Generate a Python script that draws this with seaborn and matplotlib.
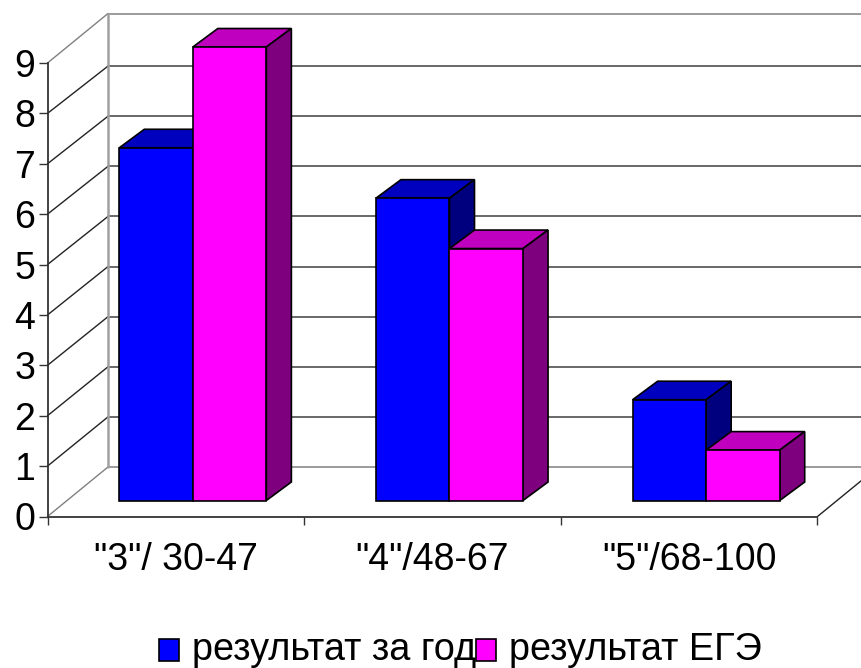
import pandas as pd
import seaborn as sns
import matplotlib.pyplot as plt
from matplotlib.patches import Polygon
from matplotlib.transforms import Affine2D

categories = ['"3"/ 30-47', '"4"/48-67', '"5"/68-100']
year_result = [7, 6, 2]
ege_result = [9, 5, 1]
series_names = ['результат за год', 'результат ЕГЭ']
y_ticks = [0, 1, 2, 3, 4, 5, 6, 7, 8, 9]

df = pd.DataFrame({
    'cat': categories * 2,
    'value': year_result + ege_result,
    'series': [series_names[0]] * 3 + [series_names[1]] * 3,
})

sns.set_style('white')
plt.rcParams['font.family'] = ['Liberation Sans', 'DejaVu Sans']

W, H = 861, 668
fig = plt.figure(figsize=(W / 100, H / 100), dpi=100)
# front plane of the fake 3d box, in pixels
left, right, bottom, top = 47.5, 817.5, 516.5, 63
ax = fig.add_axes([left / W, 1 - bottom / H, (right - left) / W, (bottom - top) / H])

colors = {series_names[0]: '#0000ff', series_names[1]: '#ff00ff'}
sns.barplot(data=df, x='cat', y='value', hue='series', palette=colors, saturation=1,
            width=0.573, gap=0, edgecolor='black', linewidth=1.2, ax=ax)

ax.set_xlim(-0.5, 2.5)
ax.set_ylim(0, 9)
ax.set_xlabel('')
ax.set_ylabel('')

x_px = (right - left) / 3
y_px = (bottom - top) / 9

# back wall, side wall and floor
wall = Affine2D().translate(60.5, 49.5)
back = ax.transData + wall
for v in y_ticks:
    col = '#808080' if v in (0, 9) else '#404040'
    # inner back lines run a touch tighter than the front scale
    bv = v if v == 9 else v * 0.9945
    ax.plot([-0.5, 2.75], [bv, bv], color=col, lw=1.1, transform=back, clip_on=False, zorder=1)
    ax.plot([-0.5, -0.5 + 60.5 / x_px], [v, bv + 49.5 / y_px], color='#808080' if v in (0, 9) else '#222222',
            lw=1, clip_on=False, zorder=1)
ax.plot([-0.5, -0.5], [0, 9], color='#a0a0a0', lw=1.8, transform=back, clip_on=False, zorder=1)
ax.plot([2.5, 2.5 + 60.5 / x_px], [0, 49.5 / y_px], color='#222222', lw=1, clip_on=False, zorder=1)

# bars sit a bit behind the front plane, faces are built from the bar rectangles
bar_shift = Affine2D().translate(17, 16)
bar_trans = ax.transData + bar_shift
dx = 25 / x_px
dy = 18.5 / y_px
tops = ['#0000bf', '#bf00bf']
sides = ['#00007f', '#7f007f']
for i, cont in enumerate(ax.containers):
    z = 3 + i
    for b in cont:
        x0, w, h = b.get_x(), b.get_width(), b.get_height()
        b.set_transform(bar_trans)
        b.set_zorder(z + 0.5)
        b.set_clip_on(False)
        ax.add_patch(Polygon([(x0, h), (x0 + dx, h + dy), (x0 + w + dx, h + dy), (x0 + w, h)],
                             facecolor=tops[i], edgecolor='black', lw=1.2,
                             transform=bar_trans, zorder=z, clip_on=False))
        ax.add_patch(Polygon([(x0 + w, 0), (x0 + w + dx, dy), (x0 + w + dx, h + dy), (x0 + w, h)],
                             facecolor=sides[i], edgecolor='black', lw=1.2,
                             transform=bar_trans, zorder=z, clip_on=False))

sns.despine(ax=ax, top=True, right=True)
for s in ['left', 'bottom']:
    ax.spines[s].set_color('#333333')
    ax.spines[s].set_linewidth(1.3)

ax.set_yticks(y_ticks)
ax.tick_params(axis='y', left=True, length=6.5, width=1, color='#333333', labelsize=27, pad=2.5, labelcolor='black')
ax.set_xticks([-0.5, 0.5, 1.5, 2.5])
ax.set_xticklabels([])
ax.set_xticks([0, 1, 2], categories, minor=True)
ax.tick_params(axis='x', which='major', bottom=True, length=6, width=1, color='#333333')
ax.tick_params(axis='x', which='minor', bottom=False, length=0, labelsize=27, pad=18.5, labelcolor='black')

handles, labels = ax.get_legend_handles_labels()
leg = ax.legend(handles, labels, ncol=2, frameon=False, fontsize=27.3, loc='center',
                bbox_to_anchor=(460 / W, 1 - 650 / H), bbox_transform=fig.transFigure,
                handlelength=0.53, handleheight=0.53, handletextpad=0.34, columnspacing=0,
                borderpad=0, labelcolor='black')
for h in leg.legend_handles:
    h.set_y(h.get_y() - 2.5)

fig.savefig('out.png', dpi=100)
